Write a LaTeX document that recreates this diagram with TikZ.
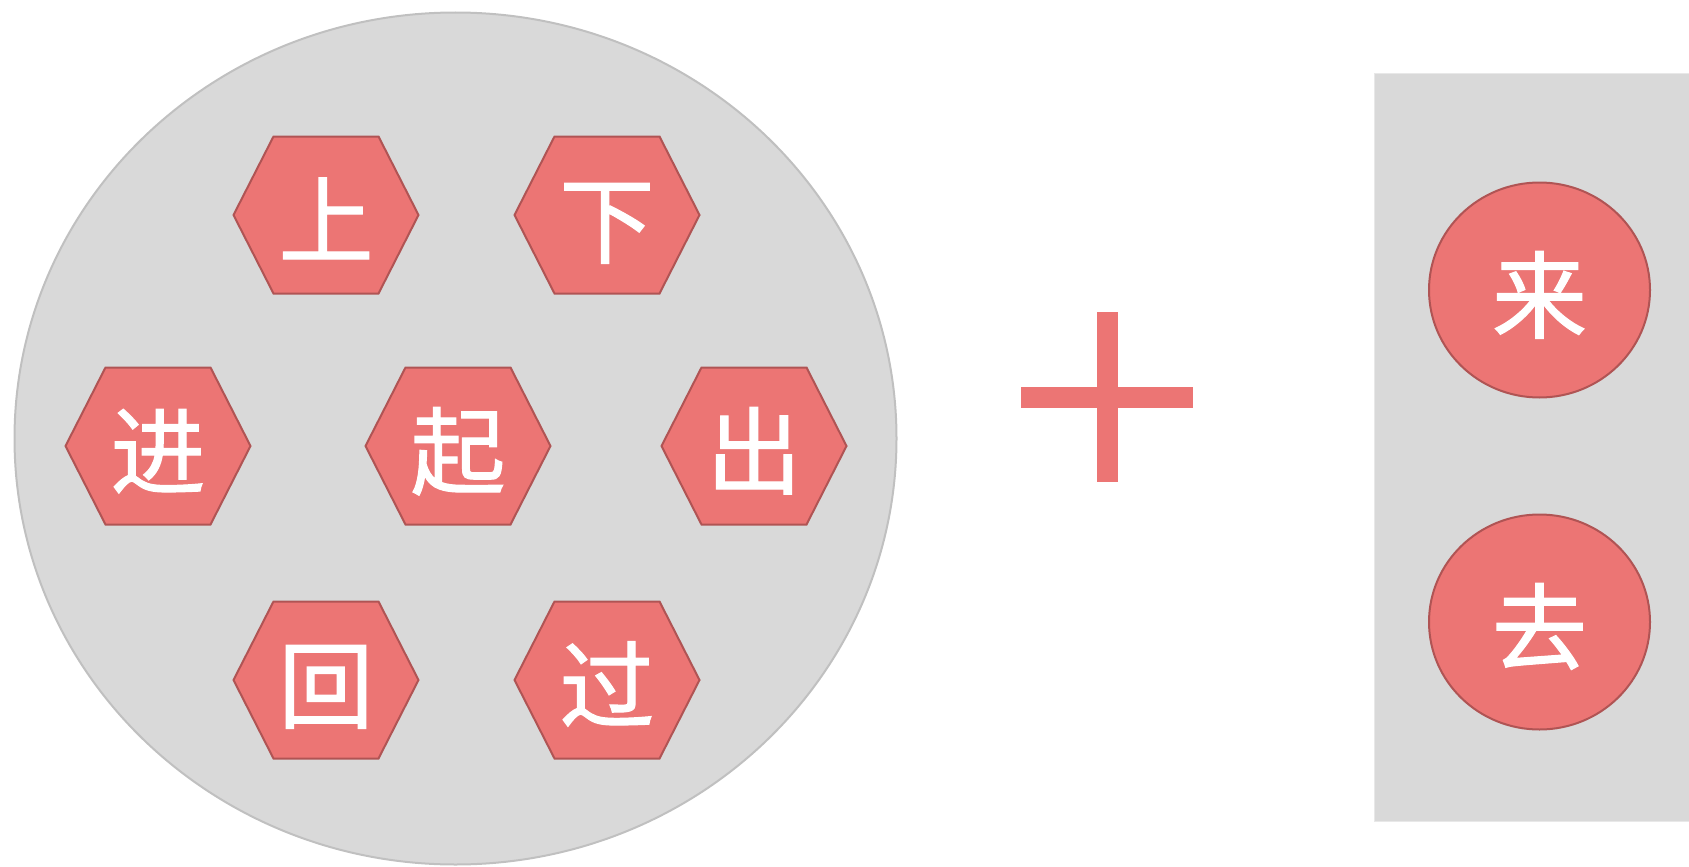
\documentclass[tikz,border=0pt]{standalone}
\usepackage{fontspec}
\newfontfamily\cjk[FakeBold=1.2]{Noto Sans CJK SC}
\usetikzlibrary{shapes.geometric, shapes.symbols}
\definecolor{cellRed}{RGB}{236,117,116}
\definecolor{cellEdge}{RGB}{176,84,84}
\definecolor{panelGray}{RGB}{217,217,217}
\definecolor{panelEdge}{RGB}{192,192,192}
\begin{document}
\begin{tikzpicture}[
  x=1pt, y=-1pt,
  groupNode/.style  ={ellipse, fill=panelGray, draw=panelEdge, line width=2pt, minimum width=882, minimum height=852, inner sep=0pt},
  boxNode/.style    ={rectangle, fill=panelGray, draw=panelGray!60!white, line width=1pt, inner sep=0pt, anchor=north west},
  hexNode/.style    ={signal, signal to=west and east, signal pointer angle=126, fill=cellRed, draw=cellEdge, line width=2pt,
                      minimum width=185, minimum height=157, inner sep=0pt, text=white, text height=86pt, text depth=4pt,
                      font=\cjk\fontsize{95}{95}\selectfont},
  roundNode/.style  ={ellipse, fill=cellRed, draw=cellEdge, line width=2pt, minimum width=221, minimum height=215,
                      inner sep=0pt, text=white, text height=86pt, text depth=4pt, font=\cjk\fontsize{95}{95}\selectfont},
  plusBar/.style    ={fill=cellRed}
]

\useasboundingbox (0,0) rectangle (1689,867);
\clip (0,0) rectangle (1689,867);

% ================== LEFT GROUP ==================
\node[groupNode] (GROUP) at (455.5,438.5) {};

\node[hexNode] (SHANG) at (326,215) {上};
\node[hexNode] (XIA)   at (607,215) {下};
\node[hexNode] (JIN)   at (158,446) {进};
\node[hexNode] (QI)    at (458,446) {起};
\node[hexNode] (CHU)   at (754,446) {出};
\node[hexNode] (HUI)   at (326,680) {回};
\node[hexNode] (GUO)   at (607,680) {过};

% ================== PLUS SIGN ==================
\fill[plusBar] (1097,312) rectangle (1118,482);
\fill[plusBar] (1021,387) rectangle (1193,408);

% ================== RIGHT GROUP ==================
\node[boxNode, minimum width=340, minimum height=748] (BOX) at (1374,73) {};

\node[roundNode] (LAI) at (1539.5,290) {来};
\node[roundNode] (QU)  at (1539.5,622) {去};

\end{tikzpicture}
\end{document}
